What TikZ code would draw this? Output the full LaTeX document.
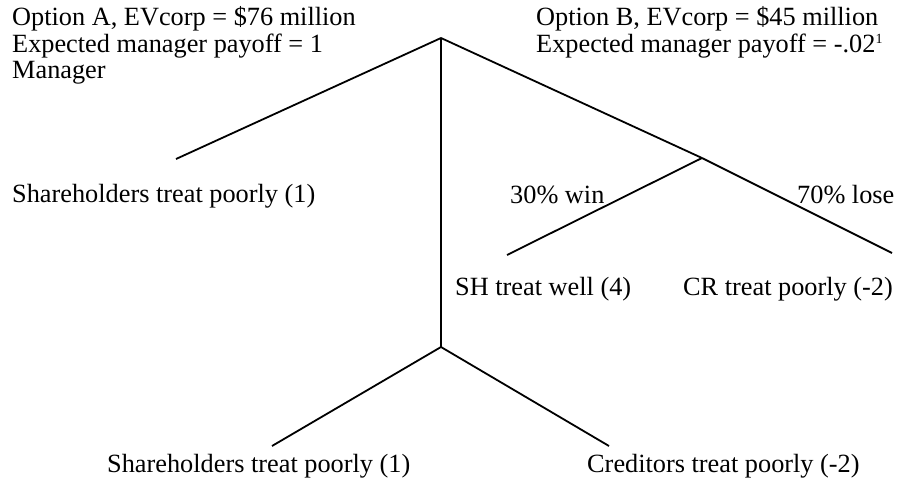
\documentclass[tikz,border=0pt]{standalone}
\usepackage{fontspec}
\setmainfont{Liberation Serif}
\begin{document}
\begin{tikzpicture}[x=1pt,y=-1pt,
  branch/.style={line width=1.8pt},
  lbl/.style={anchor=base west,inner sep=0pt,font=\fontsize{26.3}{27}\selectfont}]
\useasboundingbox (0,0) rectangle (900,479);
% decision / chance points
\coordinate (root) at (441,38);
\coordinate (chance) at (702,158);
\coordinate (fork) at (441,347);
\coordinate (lA) at (176,159);
\coordinate (lwin) at (507,255);
\coordinate (llose) at (892,253);
\coordinate (lbl1) at (272,446);
\coordinate (lbr1) at (609,446);
% branches
\draw[branch] (root) -- (lA);
\draw[branch] (root) -- (fork);
\draw[branch] (root) -- (chance);
\draw[branch] (chance) -- (llose);
\draw[branch] (chance) -- (lwin);
\draw[branch] (fork) -- (lbl1);
\draw[branch] (fork) -- (lbr1);
% texts
\node[lbl] (tA1) at (12,25) {Option A, EVcorp = \$76 million};
\node[lbl] (tA2) at (12,52) {Expected manager payoff = 1};
\node[lbl] (tM) at (12,78) {Manager};
\node[lbl] (tB1) at (536,25) {Option B, EVcorp = \$45 million};
\node[lbl] (tB2) at (536,52) {Expected manager payoff = -.02\raisebox{9pt}{\fontsize{14}{14}\selectfont 1}};
\node[lbl] (tSHp) at (12,202) {Shareholders treat poorly (1)};
\node[lbl] (twin) at (510,203) {30\% win};
\node[lbl] (tlose) at (797,203) {70\% lose};
\node[lbl] (tSHw) at (455,295) {SH treat well (4)};
\node[lbl] (tCRp) at (683,295) {CR treat poorly (-2)};
\node[lbl] (tSHb) at (107,472) {Shareholders treat poorly (1)};
\node[lbl] (tCRb) at (587,472) {Creditors treat poorly (-2)};
\end{tikzpicture}
\end{document}
